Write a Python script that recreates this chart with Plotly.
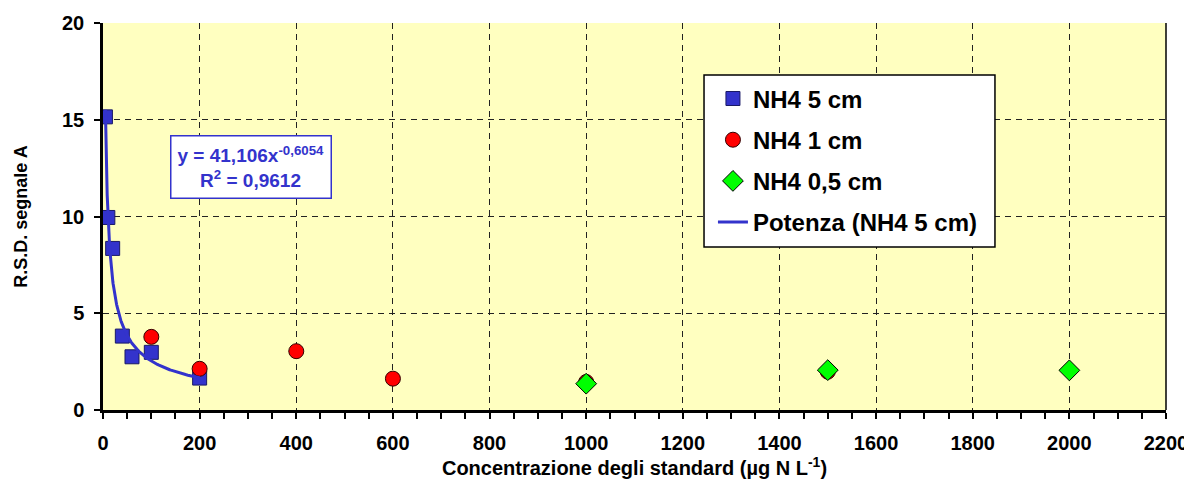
import numpy as np
import plotly.graph_objects as go

# Data
x_5cm = [5, 10, 20, 40, 60, 100, 200]
y_5cm = [15.15, 9.95, 8.35, 3.82, 2.75, 2.98, 1.65]

x_1cm = [100, 200, 400, 600, 1000, 1500]
y_1cm = [3.78, 2.13, 3.04, 1.62, 1.45, 1.98]

x_05cm = [1000, 1500, 2000]
y_05cm = [1.36, 2.06, 2.05]

# Power trendline coefficients shown on the chart (y = a * x^b)
fit_a = 41.106
fit_b = -0.6054
fit_r2 = "0,9612"
fit_x = np.geomspace(min(x_5cm), max(x_5cm), 200)
fit_y = fit_a * fit_x ** fit_b

x_ticks = list(range(0, 2201, 200))
y_ticks = [0, 5, 10, 15, 20]

FONT = "Liberation Sans, Arial, sans-serif"
BLUE = "#3333CC"

def bold(size, color="black"):
    return dict(family=FONT, size=size, color=color, weight="bold")

fig = go.Figure()
fig.add_trace(go.Scatter(
    x=x_5cm, y=y_5cm, mode="markers", name="NH4 5 cm", legendgroup="a",
    marker=dict(symbol="square", size=14, color=BLUE, line=dict(color="#1a1a66", width=1)),
))
fig.add_trace(go.Scatter(
    x=x_1cm, y=y_1cm, mode="markers", name="NH4 1 cm", legendgroup="b",
    marker=dict(symbol="circle", size=15, color="#FF0000", line=dict(color="#330000", width=1)),
))
fig.add_trace(go.Scatter(
    x=x_05cm, y=y_05cm, mode="markers", name="NH4 0,5 cm", legendgroup="c",
    marker=dict(symbol="diamond", size=16, color="#00FF00", line=dict(color="#000000", width=1)),
))
fig.add_trace(go.Scatter(
    x=fit_x, y=fit_y, mode="lines", name="Potenza (NH4 5 cm)", legendgroup="d",
    line=dict(color=BLUE, width=3),
))

fig.add_annotation(
    x=0.139, y=0.628, xref="paper", yref="paper", xanchor="center", yanchor="middle",
    text=f"y = {str(fit_a).replace('.', ',')}x<sup>{str(fit_b).replace('.', ',')}</sup><br>R<sup>2</sup> = {fit_r2}",
    showarrow=False, align="center",
    font=bold(19, BLUE),
    bgcolor="white", bordercolor=BLUE, borderwidth=1.5, borderpad=6,
)

# right border of plot area
fig.add_shape(type="line", xref="paper", yref="paper", x0=1, x1=1, y0=0, y1=1,
              line=dict(color="black", width=1.5))
# legend frame (white box with black border behind the legend entries)
fig.add_shape(type="rect", xref="paper", yref="paper", x0=0.5654, x1=0.8391, y0=0.4212, y1=0.8656,
              fillcolor="white", line=dict(color="black", width=1.5), layer="above")

grid_dash = "6px,5px"
# the html page adds an 8px body margin (left/top), so the figure is 8px smaller
fig.update_layout(
    width=1184, height=487,
    margin=dict(l=95, r=26, t=15, b=85),
    paper_bgcolor="white", plot_bgcolor="#FFFFC0",
    font=bold(20),
    showlegend=True,
    legend=dict(
        x=0.5738, y=0.862, xanchor="left", yanchor="top",
        bgcolor="rgba(0,0,0,0)", borderwidth=0,
        font=bold(24),
        tracegroupgap=7, traceorder="grouped",
        itemwidth=30,
    ),
    xaxis=dict(
        range=[0, 2200], tickvals=x_ticks, ticktext=[str(v) for v in x_ticks],
        showgrid=True, gridcolor="#222222", griddash=grid_dash, gridwidth=1,
        showline=True, linecolor="black", linewidth=2.5,
        ticks="outside", ticklen=6, tickwidth=2, tickcolor="black",
        minor=dict(dtick=50, ticks="outside", ticklen=6, tickwidth=2, tickcolor="black", showgrid=False),
        tickfont=bold(20), ticklabelstandoff=7, ticklabeloverflow="allow",
        title=dict(text="Concentrazione degli standard (µg N L<sup>-1</sup>)",
                   font=bold(20), standoff=7),
        zeroline=False, automargin=False,
    ),
    yaxis=dict(
        range=[0, 20], tickvals=y_ticks, ticktext=[str(v) for v in y_ticks],
        showgrid=True, gridcolor="#222222", griddash=grid_dash, gridwidth=1,
        showline=True, linecolor="black", linewidth=2.5,
        ticks="outside", ticklen=6, tickwidth=2, tickcolor="black",
        tickfont=bold(20), ticklabelstandoff=6,
        title=dict(text="R.S.D. segnale A", font=bold(18), standoff=30),
        zeroline=False, automargin=False,
    ),
)

fig.write_html("out.html")
